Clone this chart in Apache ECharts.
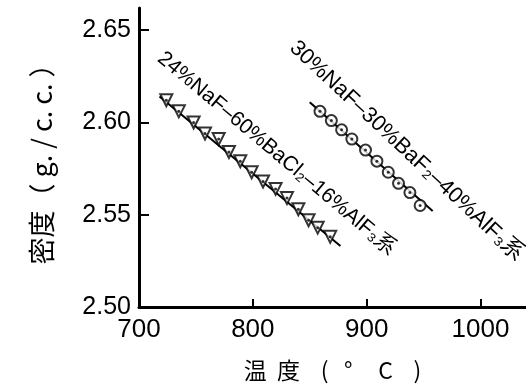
<!DOCTYPE html>
<html>
<head>
<meta charset="utf-8">
<script src="https://cdn.jsdelivr.net/npm/echarts@6/dist/echarts.min.js"></script>
<style>
  html, body { margin: 0; padding: 0; background: #fff; }
  #chart { width: 526px; height: 387px; }
</style>
</head>
<body>
<div id="chart"></div>
<script>
// Tick values of both axes
const xTicks = [700, 800, 900, 1000];
const yTicks = [2.50, 2.55, 2.60, 2.65];

// 24%NaF-60%BaCl2-16%AlF3 melt: temperature (°C) and density (g/c.c.)
const tempA    = [724, 735, 748, 758, 770, 779, 789, 799, 809, 820, 830, 840, 849, 857, 868];
const densityA = [2.612, 2.606, 2.600, 2.594, 2.591, 2.584, 2.579, 2.573, 2.568, 2.564, 2.559, 2.553, 2.547, 2.543, 2.538];
// straight line drawn through that set (its two ends)
const lineATemp    = [718, 877];
const lineADensity = [2.614, 2.533];

// 30%NaF-30%BaF2-40%AlF3 melt
const tempB    = [859, 869, 878, 887, 899, 909, 919, 928, 938, 947];
const densityB = [2.606, 2.601, 2.596, 2.591, 2.585, 2.579, 2.573, 2.567, 2.562, 2.555];
const lineBTemp    = [850, 958];
const lineBDensity = [2.611, 2.552];

// Names of the two melts, written along their lines
const nameA = '24%NaF–60%BaCl₂–16%AlF₃系';
const nameB = '30%NaF–30%BaF₂–40%AlF₃系';
const nameAAt = [821, 2.5832];
const nameBAt = [935, 2.5846];

const pair = (xs, ys) => xs.map((x, i) => [x, ys[i]]);

const FONT = '"Liberation Sans", "DejaVu Sans", sans-serif';
const CJK = '"Noto Sans CJK JP", "Noto Sans CJK SC", sans-serif';

const chart = echarts.init(document.getElementById('chart'), null, { renderer: 'canvas' });

const markerStyle = { color: '#fff', borderColor: '#000', borderWidth: 2 };
const dotStyle = { color: '#000' };

chart.setOption({
  backgroundColor: '#fff',
  animation: false,
  grid: { left: 139, right: 0, top: 8, bottom: 80 },
  xAxis: {
    type: 'value',
    min: 700, max: 1040,
    interval: 100,
    name: '温  度    (   °     C    )',
    nameLocation: 'middle',
    nameGap: 52,
    nameTextStyle: { fontFamily: CJK, fontSize: 23, color: '#000' },
    splitLine: { show: false },
    axisLine: { lineStyle: { color: '#000', width: 3 } },
    axisTick: { inside: true, length: 8, lineStyle: { color: '#000', width: 2 }, customValues: xTicks },
    axisLabel: {
      customValues: xTicks, color: '#000', fontFamily: FONT, fontSize: 26, margin: 10,
      formatter: v => String(v)
    }
  },
  yAxis: {
    type: 'value',
    min: 2.50, max: 2.662,
    interval: 0.05,
    name: '密度（ g. / c. c. ）',
    nameLocation: 'middle',
    nameRotate: 90,
    nameGap: 84,
    nameTextStyle: { fontFamily: CJK, fontSize: 27, color: '#000' },
    splitLine: { show: false },
    axisLine: { lineStyle: { color: '#000', width: 3 } },
    axisTick: { inside: true, length: 10, lineStyle: { color: '#000', width: 2 }, customValues: yTicks },
    axisLabel: {
      customValues: yTicks, color: '#000', fontFamily: FONT, fontSize: 25, margin: 8,
      formatter: v => v.toFixed(2)
    }
  },
  series: [
    { type: 'line', data: pair(lineATemp, lineADensity), symbol: 'none',
      lineStyle: { color: '#000', width: 2 }, z: 1 },
    { type: 'line', data: pair(lineBTemp, lineBDensity), symbol: 'none',
      lineStyle: { color: '#000', width: 2 }, z: 1 },
    { type: 'scatter', data: pair(tempA, densityA), symbol: 'triangle', symbolRotate: 180,
      symbolSize: 12, itemStyle: markerStyle, z: 2 },
    { type: 'scatter', data: pair(tempA, densityA), symbol: 'circle',
      symbolSize: 3, itemStyle: dotStyle, z: 3 },
    { type: 'scatter', data: pair(tempB, densityB), symbol: 'circle',
      symbolSize: 11, itemStyle: markerStyle, z: 2 },
    { type: 'scatter', data: pair(tempB, densityB), symbol: 'circle',
      symbolSize: 3, itemStyle: dotStyle, z: 3 }
  ]
});

// Melt names, rotated to run along their lines
const pA = chart.convertToPixel({ gridIndex: 0 }, nameAAt);
const pB = chart.convertToPixel({ gridIndex: 0 }, nameBAt);
const deg = Math.PI / 180;
chart.setOption({
  graphic: [
    { type: 'text', x: pA[0], y: pA[1], rotation: -40 * deg,
      style: { text: nameA, fontFamily: FONT, fontSize: 21, fill: '#000', align: 'center', verticalAlign: 'middle' } },
    { type: 'text', x: pB[0], y: pB[1], rotation: -43 * deg,
      style: { text: nameB, fontFamily: FONT, fontSize: 22, fill: '#000', align: 'center', verticalAlign: 'middle' } }
  ]
});
</script>
</body>
</html>
